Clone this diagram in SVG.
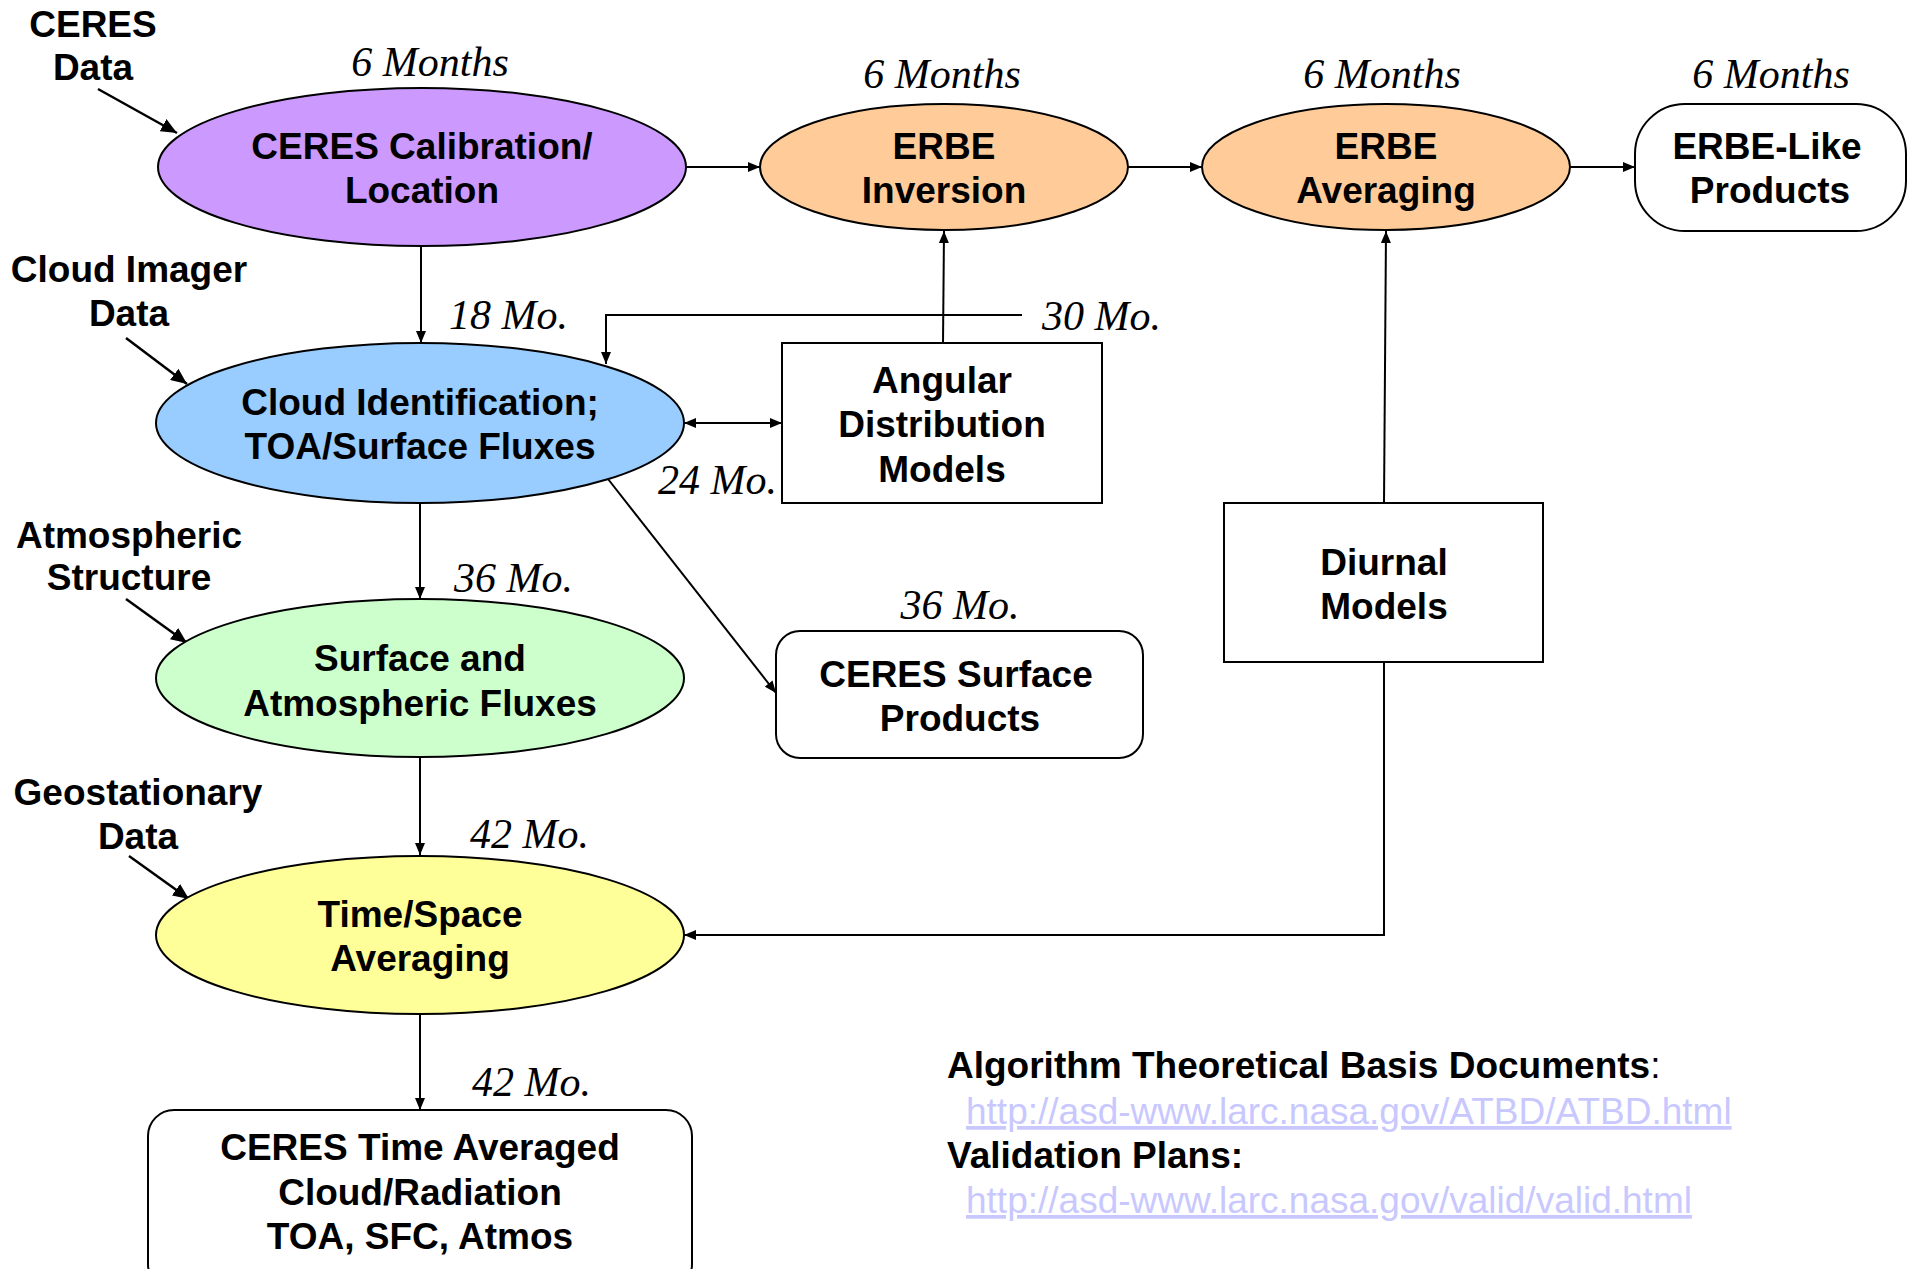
<svg xmlns="http://www.w3.org/2000/svg" width="1913" height="1269" viewBox="0 0 1913 1269">
<style>
.b{font-family:"Liberation Sans",Arial,sans-serif;font-weight:bold;font-size:37px;fill:#000;text-anchor:middle}
.bl{font-family:"Liberation Sans",Arial,sans-serif;font-weight:bold;font-size:37px;fill:#000}
.i{font-family:"Liberation Serif","Times New Roman",serif;font-style:italic;font-size:42px;fill:#000}
.u{font-family:"Liberation Sans",Arial,sans-serif;font-size:37px;fill:#c8c8ff;text-decoration:underline}
.n{stroke:#000;stroke-width:2}
.c{fill:none;stroke:#000;stroke-width:2}
.t{fill:none;stroke:#000;stroke-width:2.5}
</style>
<defs>
<marker id="ah" viewBox="0 0 12 10" refX="12" refY="5" markerWidth="12" markerHeight="10" markerUnits="userSpaceOnUse" orient="auto-start-reverse"><path d="M0,0 L12,5 L0,10 Z" fill="#000"/></marker>
<marker id="ah2" viewBox="0 0 16 14" refX="16" refY="7" markerWidth="16" markerHeight="14" markerUnits="userSpaceOnUse" orient="auto"><path d="M0,0 L16,7 L0,14 Z" fill="#000"/></marker>
</defs>
<rect width="1913" height="1269" fill="#fff"/>

<g id="connectors">
<line class="c" x1="686" y1="167" x2="760" y2="167" marker-end="url(#ah)"/>
<line class="c" x1="1127" y1="167" x2="1202" y2="167" marker-end="url(#ah)"/>
<line class="c" x1="1570" y1="167" x2="1635" y2="167" marker-end="url(#ah)"/>
<line class="c" x1="421" y1="246" x2="421" y2="343" marker-end="url(#ah)"/>
<line class="c" x1="684" y1="423" x2="782" y2="423" marker-start="url(#ah)" marker-end="url(#ah)"/>
<line class="c" x1="943" y1="343" x2="944" y2="231" marker-end="url(#ah)"/>
<polyline class="c" points="1022,315 606,315 606,364" marker-end="url(#ah)"/>
<line class="c" x1="1384" y1="503" x2="1386" y2="231" marker-end="url(#ah)"/>
<polyline class="c" points="1384,662 1384,935 684,935" marker-end="url(#ah)"/>
<line class="c" x1="608" y1="479" x2="776" y2="693" marker-end="url(#ah)"/>
<line class="c" x1="420" y1="503" x2="420" y2="599" marker-end="url(#ah)"/>
<line class="c" x1="420" y1="758" x2="420" y2="855" marker-end="url(#ah)"/>
<line class="c" x1="420" y1="1014" x2="420" y2="1110" marker-end="url(#ah)"/>
<line class="t" x1="98" y1="89" x2="177" y2="133" marker-end="url(#ah2)"/>
<line class="t" x1="126" y1="338" x2="187" y2="384" marker-end="url(#ah2)"/>
<line class="t" x1="126" y1="599" x2="187" y2="643" marker-end="url(#ah2)"/>
<line class="t" x1="129" y1="856" x2="189" y2="899" marker-end="url(#ah2)"/>
</g>

<g id="labels">
<text class="i" x="430" y="76" text-anchor="middle">6 Months</text>
<text class="i" x="942" y="88" text-anchor="middle">6 Months</text>
<text class="i" x="1382" y="88" text-anchor="middle">6 Months</text>
<text class="i" x="1771" y="88" text-anchor="middle">6 Months</text>
<text class="i" x="449" y="329">18 Mo.</text>
<text class="i" x="1042" y="330">30 Mo.</text>
<text class="i" x="777" y="494" text-anchor="end">24 Mo.</text>
<text class="i" x="454" y="592">36 Mo.</text>
<text class="i" x="960" y="619" text-anchor="middle">36 Mo.</text>
<text class="i" x="470" y="848">42 Mo.</text>
<text class="i" x="472" y="1096">42 Mo.</text>
<text class="b" x="93" y="37">CERES</text>
<text class="b" x="93" y="80">Data</text>
<text class="b" x="129" y="282">Cloud Imager</text>
<text class="b" x="129" y="326">Data</text>
<text class="b" x="129" y="548">Atmospheric</text>
<text class="b" x="129" y="590">Structure</text>
<text class="b" x="138" y="805">Geostationary</text>
<text class="b" x="138" y="849">Data</text>
</g>

<g id="n-calibration">
<ellipse class="n" cx="422" cy="167" rx="264" ry="79" fill="#cc99ff"/>
<text class="b" x="422" y="159">CERES Calibration/</text>
<text class="b" x="422" y="203">Location</text>
</g>
<g id="n-erbe-inversion">
<ellipse class="n" cx="944" cy="167" rx="184" ry="63" fill="#ffcc99"/>
<text class="b" x="944" y="159">ERBE</text>
<text class="b" x="944" y="203">Inversion</text>
</g>
<g id="n-erbe-averaging">
<ellipse class="n" cx="1386" cy="167" rx="184" ry="63" fill="#ffcc99"/>
<text class="b" x="1386" y="159">ERBE</text>
<text class="b" x="1386" y="203">Averaging</text>
</g>
<g id="n-erbe-like">
<rect class="n" x="1635" y="104" width="271" height="127" rx="50" fill="#fff"/>
<text class="b" x="1767" y="159">ERBE-Like</text>
<text class="b" x="1770" y="203">Products</text>
</g>
<g id="n-cloud-id">
<ellipse class="n" cx="420" cy="423" rx="264" ry="80" fill="#99ccff"/>
<text class="b" x="420" y="415">Cloud Identification;</text>
<text class="b" x="420" y="459">TOA/Surface Fluxes</text>
</g>
<g id="n-adm">
<rect class="n" x="782" y="343" width="320" height="160" fill="#fff"/>
<text class="b" x="942" y="393">Angular</text>
<text class="b" x="942" y="437">Distribution</text>
<text class="b" x="942" y="482">Models</text>
</g>
<g id="n-diurnal">
<rect class="n" x="1224" y="503" width="319" height="159" fill="#fff"/>
<text class="b" x="1384" y="575">Diurnal</text>
<text class="b" x="1384" y="619">Models</text>
</g>
<g id="n-surface-products">
<rect class="n" x="776" y="631" width="367" height="127" rx="24" fill="#fff"/>
<text class="b" x="956" y="687">CERES Surface</text>
<text class="b" x="960" y="731">Products</text>
</g>
<g id="n-surface-atmos">
<ellipse class="n" cx="420" cy="678" rx="264" ry="79" fill="#ccffcc"/>
<text class="b" x="420" y="671">Surface and</text>
<text class="b" x="420" y="716">Atmospheric Fluxes</text>
</g>
<g id="n-time-space">
<ellipse class="n" cx="420" cy="935" rx="264" ry="79" fill="#ffff99"/>
<text class="b" x="420" y="927">Time/Space</text>
<text class="b" x="420" y="971">Averaging</text>
</g>
<g id="n-time-averaged">
<rect class="n" x="148" y="1110" width="544" height="180" rx="26" fill="#fff"/>
<text class="b" x="420" y="1160">CERES Time Averaged</text>
<text class="b" x="420" y="1205">Cloud/Radiation</text>
<text class="b" x="420" y="1249">TOA, SFC, Atmos</text>
</g>

<g id="notes">
<text class="bl" x="947" y="1078">Algorithm Theoretical Basis Documents<tspan font-weight="normal">:</tspan></text>
<text class="u" x="966" y="1124">http://asd-www.larc.nasa.gov/ATBD/ATBD.html</text>
<text class="bl" x="947" y="1168">Validation Plans:</text>
<text class="u" x="966" y="1213">http://asd-www.larc.nasa.gov/valid/valid.html</text>
</g>
</svg>
